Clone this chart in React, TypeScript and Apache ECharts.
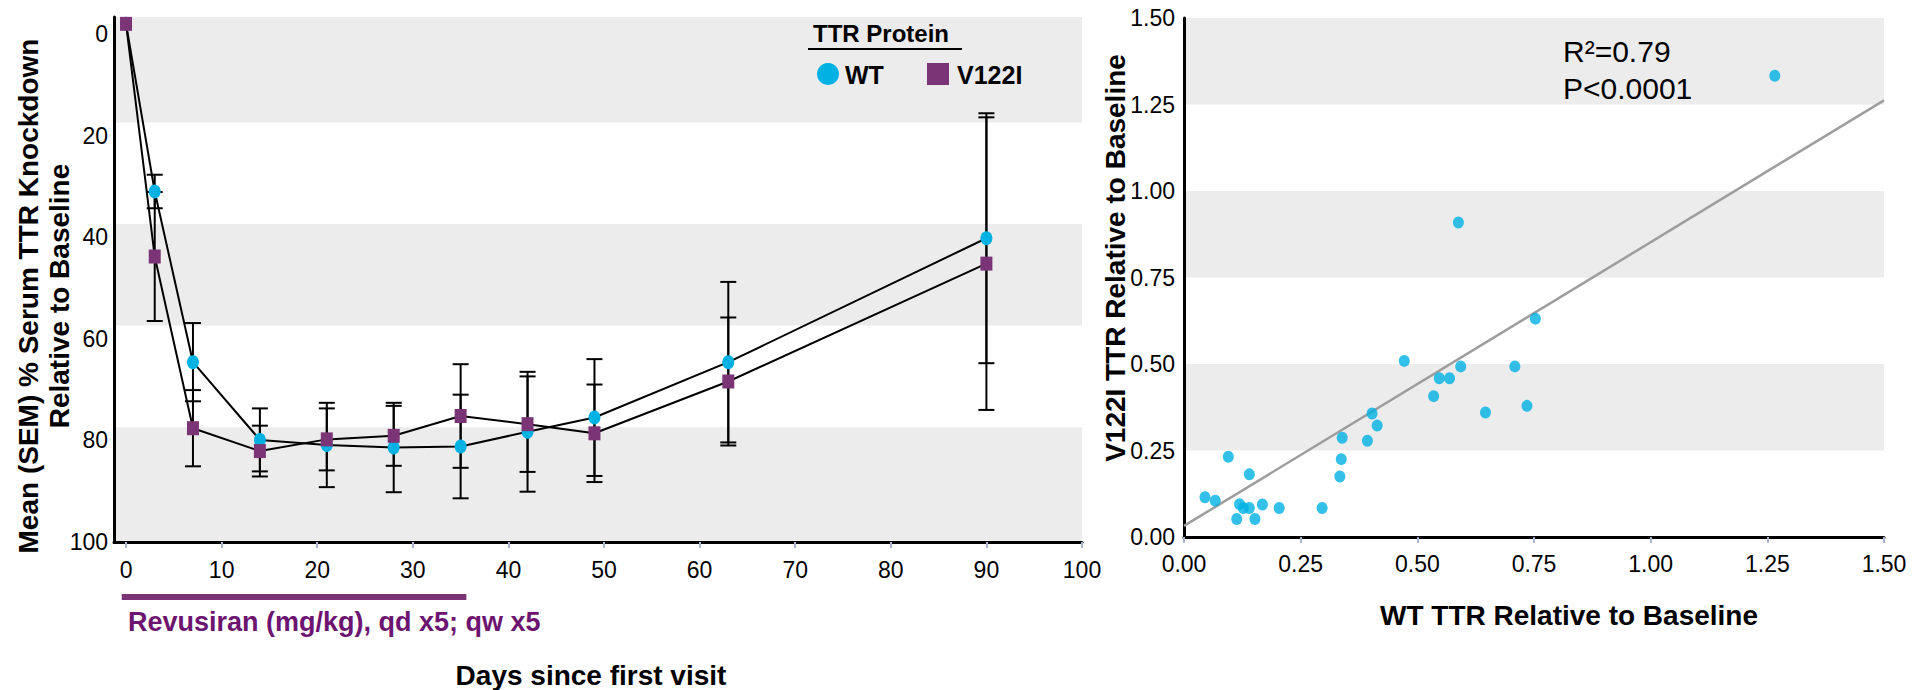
import React, { useEffect, useRef } from "react";
import * as echarts from "echarts";

// ---------- Left panel: % TTR knockdown over time ----------
const days = [0, 3, 7, 14, 21, 28, 35, 42, 49, 63, 90];
const wtMean = [-2, 31.0, 64.6, 79.9, 80.9, 81.4, 81.2, 78.3, 75.5, 64.6, 40.2];
const wtSem = [0, 3.3, 7.7, 6.2, 8.3, 8.8, 10.2, 11.8, 11.5, 15.8, 24.6];
const v122iMean = [-2, 43.8, 77.6, 82.1, 79.8, 79.1, 75.2, 76.8, 78.6, 68.4, 45.2];
const v122iSem = [0, 12.7, 7.5, 5.0, 6.1, 5.9, 10.2, 9.4, 9.6, 12.6, 28.8];
const dayTicks = [0, 10, 20, 30, 40, 50, 60, 70, 80, 90, 100];
const knockdownTicks = [0, 20, 40, 60, 80, 100];
const knockdownBands = [
  [-3.35, 17.4],
  [37.4, 57.4],
  [77.4, 100],
];
const dosingPeriod = [-0.45, 35.6];

// ---------- Right panel: WT vs V122I TTR relative to baseline ----------
const wtRelative = [
  1.266, 0.588, 0.753, 0.472, 0.593, 0.709, 0.547, 0.569, 0.535, 0.735,
  0.646, 0.403, 0.414, 0.339, 0.393, 0.337, 0.334, 0.095, 0.14, 0.045,
  0.067, 0.119, 0.127, 0.14, 0.168, 0.204, 0.296, 0.113, 0.152,
];
const v122iRelative = [
  1.333, 0.909, 0.631, 0.509, 0.493, 0.493, 0.459, 0.459, 0.407, 0.379,
  0.36, 0.357, 0.322, 0.287, 0.278, 0.225, 0.175, 0.232, 0.181, 0.115,
  0.105, 0.095, 0.084, 0.084, 0.094, 0.084, 0.084, 0.052, 0.052,
];
const fitSlope = 0.82;
const fitIntercept = 0.032;
const fitStatsText = ["R\u00B2=0.79", "P<0.0001"];
const relativeRange = [0, 1.5];

const CYAN = "#00b2e3";
const PURPLE = "#7b3577";
const PURPLE_TEXT = "#6c1470";
const BAND = "#ececec";
const TICK = "#a9b5cb";
const FONT = "'Liberation Sans', Arial, Helvetica, sans-serif";

const errorBarSeries = (mean: number[], sem: number[], name: string) => ({
  type: "custom",
  name,
  xAxisIndex: 0,
  yAxisIndex: 0,
  z: 2,
  silent: true,
  encode: { x: 0, y: 1 },
  data: days.map((d, i) => [d, mean[i], sem[i]]),
  renderItem: (_params: any, api: any) => {
    const x = api.value(0);
    const m = api.value(1);
    const e = api.value(2);
    if (!e) return { type: "group", children: [] };
    const top = api.coord([x, m - e]);
    const bot = api.coord([x, m + e]);
    const half = 8;
    const style = { stroke: "#000", lineWidth: 2 };
    return {
      type: "group",
      children: [
        { type: "line", shape: { x1: top[0], y1: top[1], x2: bot[0], y2: bot[1] }, style },
        { type: "line", shape: { x1: top[0] - half, y1: top[1], x2: top[0] + half, y2: top[1] }, style },
        { type: "line", shape: { x1: bot[0] - half, y1: bot[1], x2: bot[0] + half, y2: bot[1] }, style },
      ],
    };
  },
});

export default function App() {
  const ref = useRef<HTMLDivElement>(null);

  useEffect(() => {
    document.body.style.margin = "0";
    document.body.style.overflow = "hidden";
    if (!ref.current) return;
    const chart = echarts.init(ref.current, undefined, { renderer: "svg" });

    const tickLabel = { fontSize: 23, color: "#000", fontFamily: FONT };
    const axisLine = { show: true, onZero: false, lineStyle: { color: "#000", width: 3 } };

    chart.setOption({
      animation: false,
      backgroundColor: "#fff",
      grid: [
        { left: 114, top: 17, width: 968, height: 525 },
        { left: 1184, top: 18, width: 700, height: 519 },
      ],
      xAxis: [
        {
          type: "value",
          gridIndex: 0,
          z: 6,
          min: -1.26,
          max: 100,
          axisLine,
          axisTick: { show: true, customValues: dayTicks, length: 6, lineStyle: { color: TICK, width: 2 } },
          axisLabel: { ...tickLabel, customValues: dayTicks, margin: 16 },
          splitLine: { show: false },
        },
        {
          type: "value",
          gridIndex: 1,
          min: relativeRange[0],
          max: relativeRange[1],
          interval: 0.25,
          axisLine,
          axisTick: { show: true, length: 6, lineStyle: { color: TICK, width: 2 } },
          axisLabel: { ...tickLabel, margin: 15, formatter: (v: number) => v.toFixed(2) },
          splitLine: { show: false },
        },
      ],
      yAxis: [
        {
          type: "value",
          gridIndex: 0,
          z: 6,
          inverse: true,
          min: -3.35,
          max: 100,
          axisLine,
          axisTick: { show: false },
          axisLabel: { ...tickLabel, customValues: knockdownTicks, margin: 6 },
          splitLine: { show: false },
        },
        {
          type: "value",
          gridIndex: 1,
          min: relativeRange[0],
          max: relativeRange[1],
          interval: 0.25,
          axisLine,
          axisTick: { show: false },
          axisLabel: { ...tickLabel, margin: 9, formatter: (v: number) => v.toFixed(2) },
          splitLine: { show: false },
          splitArea: { show: true, areaStyle: { color: ["rgba(255,255,255,0)", BAND] } },
        },
      ],
      series: [
        {
          type: "line",
          name: "bands",
          xAxisIndex: 0,
          yAxisIndex: 0,
          z: 0,
          silent: true,
          data: [],
          markArea: {
            silent: true,
            label: { show: false },
            itemStyle: { color: BAND },
            data: knockdownBands.map((b) => [{ yAxis: b[0] }, { yAxis: b[1] }]),
          },
        },
        errorBarSeries(wtMean, wtSem, "WT SEM"),
        errorBarSeries(v122iMean, v122iSem, "V122I SEM"),
        {
          type: "line",
          name: "WT",
          xAxisIndex: 0,
          yAxisIndex: 0,
          z: 3,
          data: days.map((d, i) => [d, wtMean[i]]),
          symbol: "circle",
          symbolSize: [12, 14],
          itemStyle: { color: CYAN },
          lineStyle: { color: "#000", width: 2 },
        },
        {
          type: "line",
          name: "V122I",
          xAxisIndex: 0,
          yAxisIndex: 0,
          z: 4,
          data: days.map((d, i) => [d, v122iMean[i]]),
          symbol: "rect",
          symbolSize: [12, 14],
          itemStyle: { color: PURPLE },
          lineStyle: { color: "#000", width: 2 },
        },
        {
          type: "line",
          name: "fit",
          xAxisIndex: 1,
          yAxisIndex: 1,
          z: 2,
          silent: true,
          symbol: "none",
          data: relativeRange.map((x) => [x, fitIntercept + fitSlope * x]),
          lineStyle: { color: "#9d9d9d", width: 2.5 },
        },
        {
          type: "scatter",
          name: "WT vs V122I",
          xAxisIndex: 1,
          yAxisIndex: 1,
          z: 3,
          symbol: "circle",
          symbolSize: [11, 12],
          itemStyle: { color: CYAN },
          data: wtRelative.map((x, i) => [x, v122iRelative[i]]),
        },
      ],
    });

    const barStart = chart.convertToPixel({ xAxisIndex: 0 }, dosingPeriod[0]) as number;
    const barEnd = chart.convertToPixel({ xAxisIndex: 0 }, dosingPeriod[1]) as number;

    const boldText = (id: string, text: string, x: number, y: number, opts: any = {}) => ({
      type: "text",
      id,
      x,
      y,
      rotation: opts.rotation || 0,
      z: 10,
      style: {
        text,
        fontSize: opts.fontSize || 28,
        fontWeight: opts.fontWeight || "bold",
        fontFamily: FONT,
        fill: opts.fill || "#000",
        align: opts.align || "center",
        verticalAlign: "middle",
      },
    });

    chart.setOption({
      graphic: [
        boldText("ytitle1", "Mean (SEM) % Serum TTR Knockdown", 28, 296, { rotation: Math.PI / 2, fontSize: 28 }),
        boldText("ytitle2", "Relative to Baseline", 59, 296, { rotation: Math.PI / 2, fontSize: 28 }),
        boldText("xtitle", "Days since first visit", 591, 675),
        {
          type: "rect",
          id: "dosebar",
          z: 10,
          shape: { x: barStart, y: 594, width: barEnd - barStart, height: 6 },
          style: { fill: PURPLE },
        },
        boldText("dosetext", "Revusiran (mg/kg), qd x5; qw x5", 128, 622, { fontSize: 27, fill: PURPLE_TEXT, align: "left" }),
        boldText("legtitle", "TTR Protein", 813, 33, { fontSize: 24, align: "left" }),
        {
          type: "line",
          id: "legline",
          z: 10,
          shape: { x1: 808, y1: 49, x2: 962, y2: 49 },
          style: { stroke: "#000", lineWidth: 2 },
        },
        { type: "circle", id: "legwt", z: 10, shape: { cx: 828, cy: 74, r: 11 }, style: { fill: CYAN } },
        boldText("legwttext", "WT", 845, 75, { fontSize: 25, align: "left" }),
        { type: "rect", id: "legv", z: 10, shape: { x: 927, y: 63, width: 22, height: 22 }, style: { fill: PURPLE } },
        boldText("legvtext", "V122I", 957, 75, { fontSize: 25, align: "left" }),
        boldText("ytitleR", "V122I TTR Relative to Baseline", 1115, 258, { rotation: Math.PI / 2 }),
        boldText("xtitleR", "WT TTR Relative to Baseline", 1569, 615),
        boldText("stat1", fitStatsText[0], 1563, 51, { fontSize: 30, fontWeight: "normal", align: "left" }),
        boldText("stat2", fitStatsText[1], 1563, 88, { fontSize: 30, fontWeight: "normal", align: "left" }),
      ],
    });

    return () => {
      chart.dispose();
    };
  }, []);

  return <div ref={ref} style={{ width: 1913, height: 690 }} />;
}
